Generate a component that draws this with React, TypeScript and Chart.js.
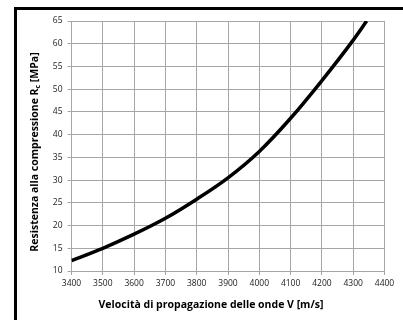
import React, { useEffect, useRef } from "react";
import { Chart, registerables } from "chart.js";

Chart.register(...registerables);

const velocity = [3400, 3500, 3600, 3700, 3800, 3900, 4000, 4100, 4200, 4300, 4343];
const resistance = [12.3, 15.0, 18.1, 21.6, 25.8, 30.5, 36.3, 43.6, 51.9, 60.8, 65.0];
const xMin = 3400, xMax = 4400, xStep = 100;
const yMin = 10, yMax = 65, yStep = 5;
const xTitle = "Velocità di propagazione delle onde V [m/s]";
const yTitleMain = "Resistenza alla compressione R";
const yTitleSub = "c";
const yTitleRest = " [MPa]";

const FONT = "'Open Sans', 'Liberation Sans', sans-serif";

const framePlugin = {
  id: "frameTitles",
  afterDraw(chart: any) {
    const ctx = chart.ctx;
    ctx.save();
    ctx.fillStyle = "#000";
    ctx.fillRect(14, 7, 403 - 14, 3);
    ctx.fillRect(14, 7, 3, 320 - 7);

    ctx.fillStyle = "#000";
    ctx.font = `bold 10.5px ${FONT}`;
    ctx.textAlign = "center";
    ctx.textBaseline = "middle";
    ctx.fillText(xTitle, 211, 305);

    const mainFont = `bold 10.5px ${FONT}`;
    const subFont = `bold 7px ${FONT}`;
    ctx.font = mainFont;
    const w1 = ctx.measureText(yTitleMain).width;
    const w3 = ctx.measureText(yTitleRest).width;
    ctx.font = subFont;
    const w2 = ctx.measureText(yTitleSub).width;
    const total = w1 + w2 + w3;
    ctx.translate(35, 152);
    ctx.rotate(-Math.PI / 2);
    ctx.textAlign = "left";
    ctx.textBaseline = "middle";
    let x = -total / 2;
    ctx.font = mainFont;
    ctx.fillText(yTitleMain, x, 0);
    x += w1;
    ctx.font = subFont;
    ctx.fillText(yTitleSub, x, 3);
    x += w2;
    ctx.font = mainFont;
    ctx.fillText(yTitleRest, x, 0);
    ctx.restore();
  },
};

export default function App() {
  const ref = useRef<HTMLCanvasElement>(null);
  useEffect(() => {
    if (!ref.current) return;
    const points = velocity.map((v, i) => ({ x: v, y: resistance[i] }));
    const chart = new Chart(ref.current, {
      type: "line",
      data: {
        datasets: [
          {
            data: points,
            borderColor: "#000",
            borderWidth: 3.5,
            pointRadius: 0,
            cubicInterpolationMode: "monotone",
            fill: false,
          },
        ],
      },
      options: {
        animation: false,
        responsive: false,
        devicePixelRatio: 1,
        layout: { padding: { left: 0, top: 21, right: 18.5, bottom: 0 } },
        plugins: { legend: { display: false }, tooltip: { enabled: false } },
        scales: {
          x: {
            type: "linear",
            min: xMin,
            max: xMax,
            ticks: {
              stepSize: xStep,
              autoSkip: false,
              maxRotation: 0,
              padding: 3,
              color: "#1a1a1a",
              font: { family: FONT, size: 8.5 },
              callback: (v: any) => String(v),
            },
            grid: { color: "#a6a6a6", lineWidth: 1, tickLength: 4 },
            border: { color: "#a6a6a6", width: 1 },
            afterFit: (s: any) => {
              s.height = 49;
            },
          },
          y: {
            type: "linear",
            min: yMin,
            max: yMax,
            ticks: {
              stepSize: yStep,
              autoSkip: false,
              padding: 5,
              color: "#1a1a1a",
              font: { family: FONT, size: 8.5 },
              callback: (v: any) => String(v),
            },
            grid: { color: "#a6a6a6", lineWidth: 1, tickLength: 4 },
            border: { color: "#a6a6a6", width: 1 },
            afterFit: (s: any) => {
              s.width = 71.5;
            },
          },
        },
      },
      plugins: [framePlugin],
    });
    return () => chart.destroy();
  }, []);
  return (
    <div style={{ position: "fixed", left: 0, top: 0, width: 403, height: 320, background: "#fff" }}>
      <canvas ref={ref} width={403} height={320} style={{ display: "block" }} />
    </div>
  );
}
